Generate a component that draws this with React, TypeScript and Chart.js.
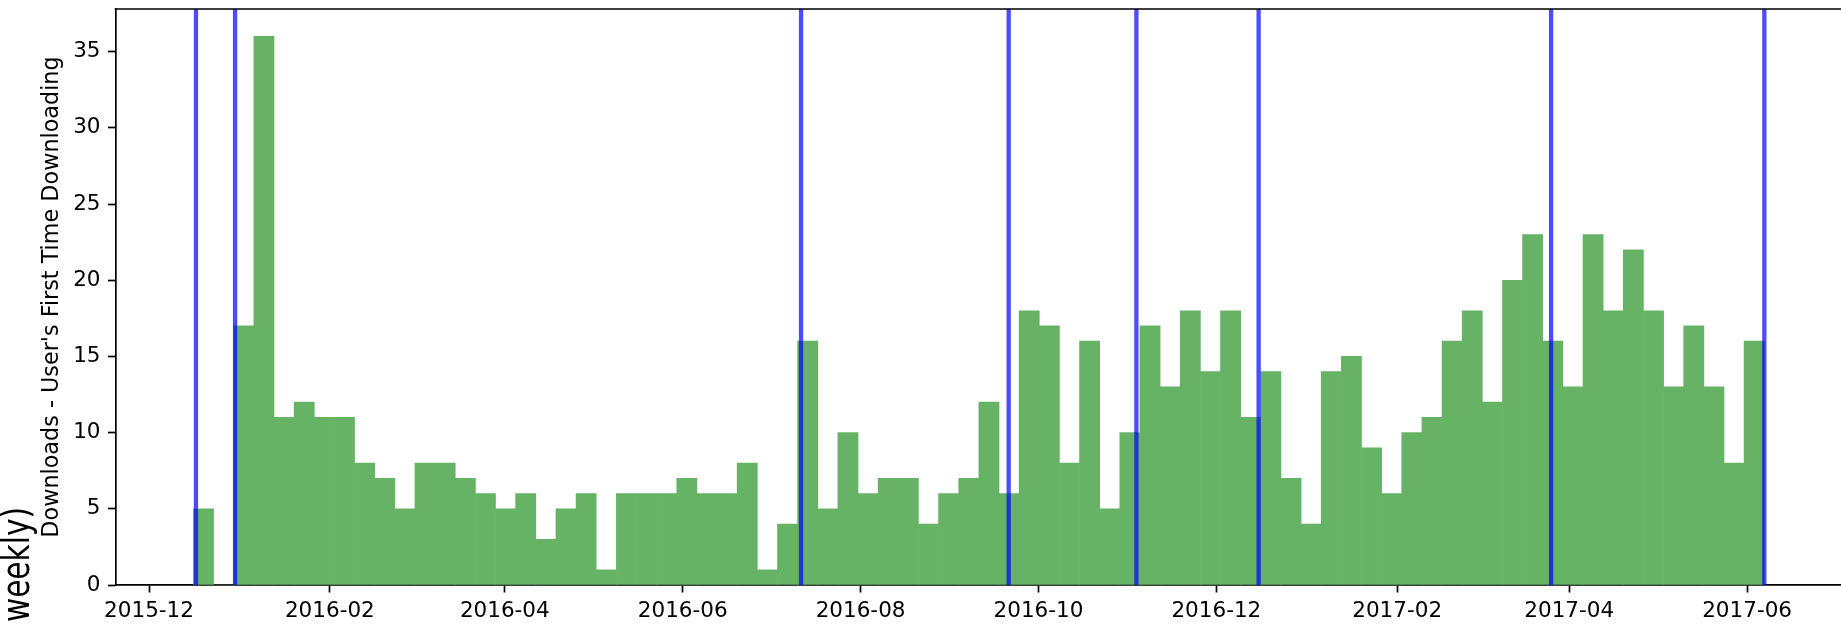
import React, { useEffect, useRef } from "react";
import { Chart, registerables } from "chart.js";

Chart.register(...registerables);

// ---- data ----
const TICK_LABELS = ["2015-12", "2016-02", "2016-04", "2016-06", "2016-08", "2016-10", "2016-12", "2017-02", "2017-04", "2017-06"];
const Y_TICKS = [0, 5, 10, 15, 20, 25, 30, 35];
// weekly histogram bins (78 bins), first bin start and bin width in days
const BIN_START = "2015-12-16T05:30";
const BIN_DAYS = 6.906;
const WEEKLY_COUNTS = [
  5, 0, 17, 36, 11, 12, 11, 11, 8, 7,
  5, 8, 8, 7, 6, 5, 6, 3, 5, 6,
  1, 6, 6, 6, 7, 6, 6, 8, 1, 4,
  16, 5, 10, 6, 7, 7, 4, 6, 7, 12,
  6, 18, 17, 8, 16, 5, 10, 17, 13, 18,
  14, 18, 11, 14, 7, 4, 14, 15, 9, 6,
  10, 11, 16, 18, 12, 20, 23, 16, 13, 23,
  18, 22, 18, 13, 17, 13, 8, 16,
];
const RELEASE_DATES = [
  "2015-12-17T02:24",
  "2015-12-30T12:00",
  "2016-07-11T14:00",
  "2016-09-20T19:00",
  "2016-11-03T14:00",
  "2016-12-15T12:00",
  "2017-03-25T19:00",
  "2017-06-06T22:00",
];
const X_MIN = "2015-11-19T12:00";
const X_MAX = "2017-07-03T05:00";
const Y_MAX = 37.8;
const Y_LABEL = "Downloads - User's First Time Downloading";
const OUTER_LABEL = "weekly)";

const DAY = 86400000;
const t = (s: string) => Date.parse(s.length === 7 ? s + "-01T00:00:00Z" : s + ":00Z");
const fmt = (v: number) => {
  const d = new Date(v);
  return `${d.getUTCFullYear()}-${String(d.getUTCMonth() + 1).padStart(2, "0")}`;
};

const FONT = "DejaVu Sans";

export default function App() {
  const ref = useRef<HTMLCanvasElement | null>(null);

  useEffect(() => {
    const canvas = ref.current;
    if (!canvas) return;
    const start = t(BIN_START);
    const barData = WEEKLY_COUNTS.map((y, i) => ({ x: start + (i + 0.5) * BIN_DAYS * DAY, y }));

    const releaseLines = {
      id: "releaseLines",
      afterDatasetsDraw(chart: any) {
        const { ctx, chartArea, scales } = chart;
        ctx.save();
        ctx.strokeStyle = "rgba(0,0,255,0.7)";
        ctx.lineWidth = 4.3;
        RELEASE_DATES.forEach((d) => {
          const x = scales.x.getPixelForValue(t(d));
          ctx.beginPath();
          ctx.moveTo(x, chartArea.top);
          ctx.lineTo(x, chartArea.bottom);
          ctx.stroke();
        });
        ctx.restore();
      },
    };

    const frame = {
      id: "frame",
      afterDraw(chart: any) {
        const { ctx, chartArea } = chart;
        ctx.save();
        ctx.strokeStyle = "#000";
        ctx.lineWidth = 1.7;
        ctx.beginPath();
        ctx.moveTo(chartArea.left - 0.85, chartArea.top);
        ctx.lineTo(chartArea.right, chartArea.top);
        ctx.stroke();
        // outer, partly cut figure label
        ctx.fillStyle = "#000";
        ctx.font = `37px "${FONT}"`;
        ctx.textAlign = "right";
        ctx.textBaseline = "alphabetic";
        ctx.translate(28.5, 507);
        ctx.rotate(-Math.PI / 2);
        ctx.scale(0.8, 1);
        ctx.fillText(OUTER_LABEL, 0, 0);
        ctx.restore();
      },
    };

    const chart = new Chart(canvas, {
      type: "bar",
      data: {
        datasets: [
          {
            data: barData as any,
            backgroundColor: "rgb(102,179,102)",
            borderWidth: 0,
            barPercentage: 1,
            categoryPercentage: 1,
          },
        ],
      },
      options: {
        animation: false,
        responsive: false,
        devicePixelRatio: 1,
        layout: { padding: { top: 9, left: 0, right: 0, bottom: 0 } },
        plugins: { legend: { display: false }, tooltip: { enabled: false } },
        scales: {
          x: {
            type: "linear",
            min: t(X_MIN),
            max: t(X_MAX),
            offset: false,
            z: 1,
            afterBuildTicks: (s: any) => {
              s.ticks = TICK_LABELS.map((l) => ({ value: t(l) }));
            },
            afterFit: (s: any) => {
              s.height = 41;
              s.paddingLeft = 0;
              s.paddingRight = 0;
            },
            ticks: {
              autoSkip: false,
              maxRotation: 0,
              minRotation: 0,
              padding: 6,
              color: "#000",
              font: { family: FONT, size: 21.5 },
              callback: (v: any) => fmt(Number(v)),
            },
            grid: { offset: false, drawOnChartArea: false, drawTicks: true, tickLength: 7.5, tickWidth: 1.7, tickColor: "#000" },
            border: { display: true, color: "#000", width: 1.7 },
          },
          y: {
            type: "linear",
            min: 0,
            max: Y_MAX,
            z: 1,
            afterBuildTicks: (s: any) => {
              s.ticks = Y_TICKS.map((v) => ({ value: v }));
            },
            afterFit: (s: any) => {
              s.width = 115.5;
              s.paddingTop = 0;
              s.paddingBottom = 0;
            },
            ticks: {
              padding: 7.5,
              color: "#000",
              font: { family: FONT, size: 21.5 },
            },
            grid: { offset: false, drawOnChartArea: false, drawTicks: true, tickLength: 7.5, tickWidth: 1.7, tickColor: "#000" },
            border: { display: true, color: "#000", width: 1.7 },
            title: {
              display: true,
              text: Y_LABEL,
              color: "#000",
              font: { family: FONT, size: 22.3 },
              padding: { top: 39, bottom: 0 },
            },
          },
        },
      } as any,
      plugins: [releaseLines, frame],
    });
    return () => chart.destroy();
  }, []);

  return (
    <div style={{ position: "absolute", left: 0, top: 0, width: 1841, height: 626, background: "#fff", overflow: "hidden" }}>
      <canvas ref={ref} width={1841} height={626} style={{ display: "block" }} />
    </div>
  );
}
